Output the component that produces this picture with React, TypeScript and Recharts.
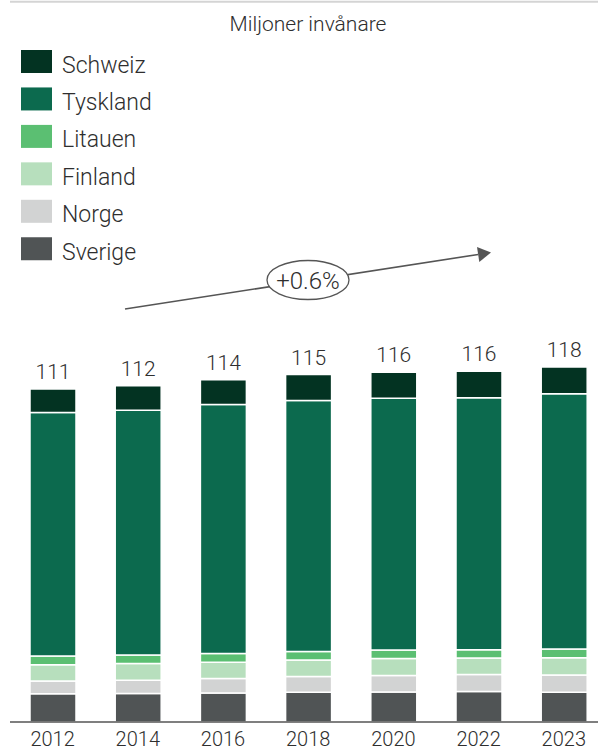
import React from 'react';
import { BarChart, Bar, XAxis, YAxis, LabelList } from 'recharts';

const years = ['2012', '2014', '2016', '2018', '2020', '2022', '2023'];
const sverige = [9.4, 9.5, 9.7, 9.9, 10.0, 10.2, 9.9];
const norge = [4.3, 4.4, 4.8, 5.3, 5.5, 5.6, 5.8];
const finland = [5.4, 5.6, 5.4, 5.5, 5.7, 5.5, 5.7];
const litauen = [2.9, 2.8, 2.9, 2.8, 2.8, 2.8, 2.9];
const tyskland = [81.2, 81.6, 83.0, 83.7, 83.9, 84.0, 85.1];
const schweiz = [7.8, 8.2, 8.3, 8.6, 8.7, 8.8, 8.9];
const totals = ['111', '112', '114', '115', '116', '116', '118'];

const title = 'Miljoner invånare';
const growthLabel = '+0.6%';

// bottom to top
const series = [
  { key: 'Sverige', values: sverige, color: '#505455' },
  { key: 'Norge', values: norge, color: '#d2d3d3' },
  { key: 'Finland', values: finland, color: '#b7dfbd' },
  { key: 'Litauen', values: litauen, color: '#5bbf72' },
  { key: 'Tyskland', values: tyskland, color: '#0c6a4e' },
  { key: 'Schweiz', values: schweiz, color: '#033322' },
];

const data = years.map((year, i) => {
  const row: Record<string, string | number> = { year, total: totals[i] };
  series.forEach(s => {
    row[s.key] = s.values[i];
  });
  return row;
});

const FONT = 'Roboto, "Liberation Sans", Arial, sans-serif';
const WEIGHT = 300;
const TEXT = '#2e2e2e';

const Overlay: React.FC = () => {
  // trend arrow
  const sx = 125, sy = 309, tx = 491, ty = 252.5;
  const len = Math.hypot(tx - sx, ty - sy);
  const dx = (tx - sx) / len, dy = (ty - sy) / len;
  const bx = tx - 13 * dx, by = ty - 13 * dy;
  const nx = -dy, ny = dx;
  const head = `${tx},${ty} ${bx + 7.5 * nx},${by + 7.5 * ny} ${bx - 7.5 * nx},${by - 7.5 * ny}`;

  const legend = [...series].reverse();

  return (
    <svg
      width={598}
      height={751}
      style={{ position: 'absolute', left: 0, top: 0, pointerEvents: 'none' }}
      fontFamily={FONT}
      fontWeight={WEIGHT}
    >
      <line x1={10} y1={1.8} x2={598} y2={1.8} stroke="#d4d4d4" strokeWidth={2} />
      <text x={308} y={31} textAnchor="middle" fontSize={21} fill={TEXT}>
        {title}
      </text>
      {legend.map((s, i) => (
        <g key={s.key}>
          <rect x={21} y={50 + i * 37.45} width={31} height={23} fill={s.color} />
          <text x={62} y={72.5 + i * 37.45} fontSize={23} fill={TEXT}>
            {s.key}
          </text>
        </g>
      ))}
      <line x1={sx} y1={sy} x2={bx} y2={by} stroke="#555" strokeWidth={1.6} />
      <polygon points={head} fill="#555" />
      <ellipse cx={308} cy={280} rx={41} ry={19.5} fill="#fff" stroke="#555" strokeWidth={1.3} />
      <text x={308} y={288.5} textAnchor="middle" fontSize={24} fill={TEXT}>
        {growthLabel}
      </text>
    </svg>
  );
};

export default function App() {
  return (
    <div
      style={{
        position: 'absolute',
        left: 0,
        top: 0,
        width: 598,
        height: 751,
        overflow: 'hidden',
        background: '#fff',
      }}
    >
      <BarChart
        width={608}
        height={751}
        data={data}
        margin={{ top: 362, right: 1.6, left: 10, bottom: 0 }}
        barSize={46}
      >
        <XAxis
          dataKey="year"
          interval={0}
          tickLine={false}
          tickSize={0}
          tickMargin={10}
          axisLine={{ stroke: '#555', strokeWidth: 1.5 }}
          tick={{ fill: TEXT, fontSize: 20, fontFamily: FONT, fontWeight: WEIGHT }}
          height={29}
        />
        <YAxis hide domain={[0, 120]} />
        {series.map((s, i) => (
          <Bar
            key={s.key}
            dataKey={s.key}
            stackId="pop"
            fill={s.color}
            stroke="#fff"
            strokeWidth={1.5}
            isAnimationActive={false}
          >
            {i === series.length - 1 && (
              <LabelList
                dataKey="total"
                position="top"
                offset={10}
                fill={TEXT}
                stroke="none"
                fontSize={21}
                fontFamily={FONT}
                fontWeight={WEIGHT}
              />
            )}
          </Bar>
        ))}
      </BarChart>
      <Overlay />
    </div>
  );
}
